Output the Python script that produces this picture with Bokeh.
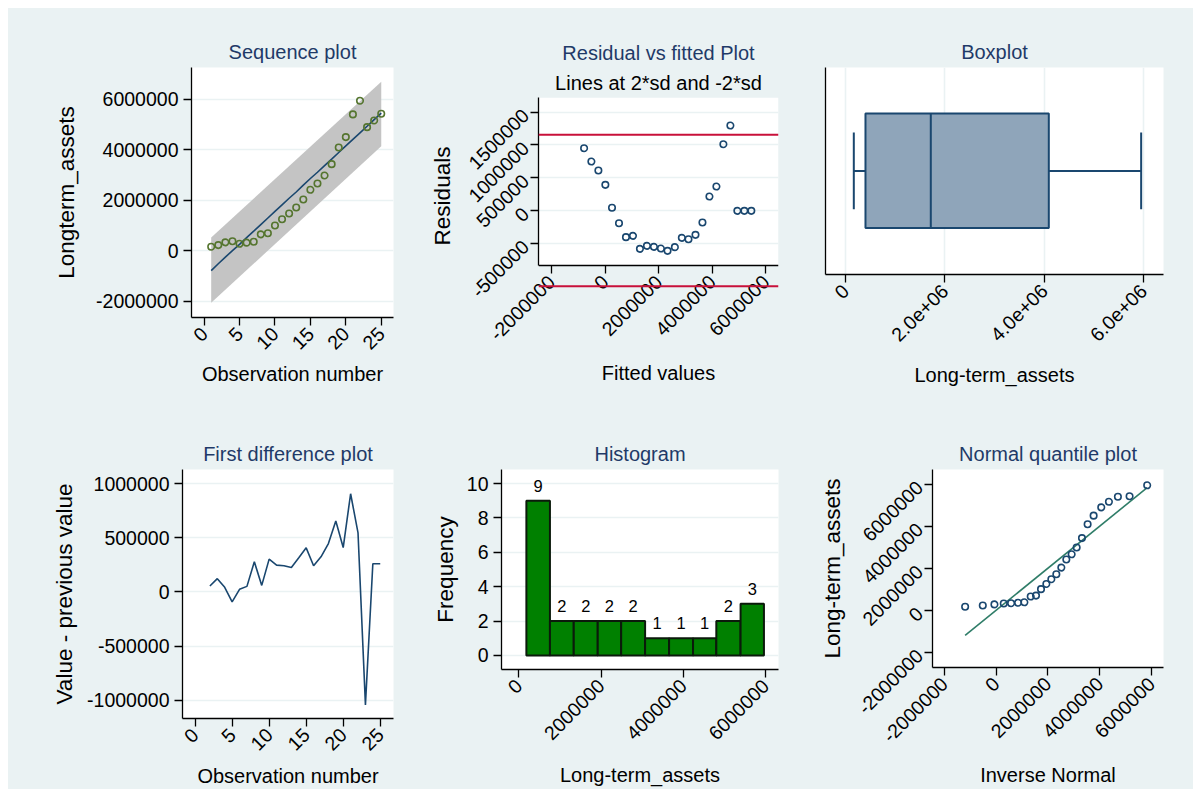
import numpy as np
from math import pi
from bokeh.plotting import figure
from bokeh.models import (Range1d, FixedTicker, NumeralTickFormatter, Span, Title, LinearAxis,
                          BoxAnnotation)
from bokeh.layouts import row, column
from bokeh.core.properties import value
from bokeh.embed import file_html
from bokeh.resources import INLINE

FONT = "Liberation Sans"
BG = "#EAF2F3"
NAVY = "#1A476F"
TITLE_C = "#1F3A68"
RED = "#C8103A"

# ---------------- data ----------------
obs = list(range(1, 26))
longterm_assets = [165000, 228000, 338000, 380000, 280000, 325000, 360000, 655000, 700000,
                   1005000, 1252000, 1480000, 1716000, 2032000, 2418000, 2665000, 2985000,
                   3435000, 4093000, 4505000, 5405000, 5948000, 4900000, 5165000, 5430000]
fitted_values = [-781000, -509000, -248000, 12000, 260000, 521000, 781000, 1042000, 1302000,
                 1563000, 1823000, 2084000, 2332000, 2605000, 2865000, 3113000, 3374000,
                 3634000, 3895000, 4155000, 4415000, 4676000, 4936000, 5197000, 5457000]
residuals = [949000, 746000, 609000, 391000, 41000, -193000, -406000, -386000, -584000,
             -538000, -553000, -579000, -614000, -558000, -416000, -437000, -371000,
             -183000, 213000, 365000, 1010000, 1294000, -5000, -5000, -5000]
band_obs = [1, 25]
band_lower = [-2059000, 4145000]
band_upper = [528000, 6693000]
sd_limits = [1155000, -1155000]

diff_obs = list(range(2, 26))
first_difference = [55000, 123000, 43000, -92000, 25000, 52000, 279000, 61000, 304000,
                    248000, 242000, 227000, 316000, 408000, 242000, 325000, 448000,
                    656000, 411000, 908000, 546000, -1043000, 261000, 261000]

box_lower_whisker = 168000
box_q1 = 403000
box_median = 1718000
box_q3 = 4094000
box_upper_whisker = 5953000

hist_edges = [185000, 758000, 1337000, 1920000, 2490000, 3072000, 3655000, 4238000,
              4804000, 5394000, 5962000]
hist_counts = [9, 2, 2, 2, 2, 1, 1, 1, 2, 3]

qq_theoretical = [-1196000, -514000, -64000, 296000, 579000, 849000, 1093000, 1338000,
                  1543000, 1736000, 1942000, 2135000, 2328000, 2521000, 2714000, 2920000,
                  3113000, 3318000, 3537000, 3769000, 4064000, 4360000, 4707000, 5158000,
                  5839000]
qq_line = [-1196000, 5839000]

obs_ticks = [0, 5, 10, 15, 20, 25]
million_ticks = [-2000000, 0, 2000000, 4000000, 6000000]


# ---------------- helpers ----------------
def make_fig(w, h, bl, br, bt, bb, xr, yr, frame_bg="white"):
    p = figure(width=w, height=h, min_border_left=bl, min_border_right=br,
               min_border_top=bt, min_border_bottom=bb,
               x_range=Range1d(*xr), y_range=Range1d(*yr),
               output_backend="svg", toolbar_location=None, title=None,
               background_fill_color=frame_bg, border_fill_color=BG,
               outline_line_color=None, frame_align=False)
    p.xgrid.visible = False
    p.ygrid.visible = False
    return p


def style_axis(ax, grid, label, label_size, standoff, ticks, orient=None, show_grid=False):
    t = FixedTicker(ticks=ticks, minor_ticks=[])
    ax.ticker = t
    ax.formatter = NumeralTickFormatter(format="0")
    ax.axis_label = label
    ax.axis_label_text_font = FONT
    ax.axis_label_text_font_size = label_size
    ax.axis_label_text_font_style = "normal"
    ax.axis_label_text_color = "black"
    ax.axis_label_standoff = standoff
    ax.major_label_text_font = FONT
    ax.major_label_text_font_size = "19.5px"
    ax.major_label_text_color = "black"
    ax.major_label_standoff = 5
    ax.major_tick_out = 8
    ax.major_tick_in = 0
    ax.minor_tick_out = 0
    ax.minor_tick_in = 0
    ax.major_tick_line_color = "black"
    ax.major_tick_line_width = 1.3
    ax.axis_line_color = "black"
    ax.axis_line_width = 1.3
    if orient is not None:
        ax.major_label_orientation = orient
    if show_grid:
        grid.visible = True
        grid.ticker = t
        grid.grid_line_color = BG
        grid.grid_line_width = 1.6
    return t


def add_title(p, text, color, standoff):
    p.add_layout(Title(text=text, align="center", text_font=FONT, text_font_size="20px",
                       text_font_style="normal", text_color=color, standoff=standoff), "above")


# ---------------- panel 1: sequence plot ----------------
p1 = make_fig(404, 397, 183, 19, 59, 88, (-1.78, 26.73), (-2639000, 7262000))
style_axis(p1.xaxis[0], p1.xgrid[0], "Observation number", "20px", 4, obs_ticks, orient=pi / 4)
style_axis(p1.yaxis[0], p1.ygrid[0], "Longterm_assets", "22.5px", 14, million_ticks,
           show_grid=True)
add_title(p1, "Sequence plot", TITLE_C, 9.5)
p1.varea(x=band_obs, y1=band_lower, y2=band_upper, fill_color="#C4C4C4")
p1.line(obs, fitted_values, line_color=NAVY, line_width=1.6)
p1.scatter(obs, longterm_assets, marker="circle", size=6.5, fill_color=None,
           line_color="#55752F", line_width=1.6)

# ---------------- panel 2: residual vs fitted ----------------
# the frame runs a little below the plot region so that the -2*sd line (which Stata
# draws below the region) can be shown; the white region ends at the x-axis value.
p2_region_bottom = -838000
p2 = make_fig(394, 397, 126, 28, 89, 111, (-2482000, 6471000), (-1279000, 1721000),
              frame_bg=BG)
fitted_ticks = [-2000000, 0, 2000000, 4000000, 6000000]
xt2 = style_axis(p2.xaxis[0], p2.xgrid[0], "Fitted values", "20px", 12, fitted_ticks,
                 orient=pi / 4)
p2.xaxis[0].axis_line_color = None
p2.xaxis[0].major_tick_out = 0
p2.xaxis[0].major_label_standoff = -16
style_axis(p2.yaxis[0], p2.ygrid[0], "Residuals", "22.5px", 4,
           [-500000, 0, 500000, 1000000, 1500000], orient=pi / 4, show_grid=True)
p2.yaxis[0].bounds = (p2_region_bottom, 1721000)
p2.add_layout(BoxAnnotation(bottom=p2_region_bottom, fill_color="white", fill_alpha=1.0,
                            line_color=None, level="image"))
x_rule = LinearAxis(fixed_location=p2_region_bottom, ticker=xt2, axis_line_color="black",
                    axis_line_width=1.3, major_tick_out=8, major_tick_in=0,
                    major_tick_line_color="black", major_tick_line_width=1.3,
                    minor_tick_out=0, minor_tick_in=0,
                    major_label_overrides={t: "" for t in fitted_ticks})
p2.add_layout(x_rule, "below")
add_title(p2, "Lines at 2*sd and -2*sd", "black", 7)
add_title(p2, "Residual vs fitted Plot", TITLE_C, 6)
for lim in sd_limits:
    p2.add_layout(Span(location=lim, dimension="width", line_color=RED, line_width=2))
p2.scatter(fitted_values, residuals, marker="circle", size=6.5, fill_color=None,
           line_color=NAVY, line_width=1.6)

# ---------------- panel 3: boxplot ----------------
p3 = make_fig(387, 397, 19, 30, 59, 131, (-402000, 6403000), (0, 1))
style_axis(p3.xaxis[0], p3.xgrid[0], "Long-term_assets", "20px", 13,
           [0, 2000000, 4000000, 6000000], orient=pi / 4, show_grid=True)
p3.xaxis[0].major_label_overrides = {0: "0", 2000000: "2.0e+06", 4000000: "4.0e+06",
                                     6000000: "6.0e+06"}
ya = p3.yaxis[0]
ya.ticker = FixedTicker(ticks=[])
ya.major_tick_out = 0
ya.minor_tick_out = 0
ya.axis_line_color = "black"
ya.axis_line_width = 1.3
add_title(p3, "Boxplot", TITLE_C, 10)
p3.segment(x0=[box_lower_whisker, box_q3], x1=[box_q1, box_upper_whisker],
           y0=[0.5, 0.5], y1=[0.5, 0.5], line_color=NAVY, line_width=2)
p3.segment(x0=[box_lower_whisker, box_upper_whisker], x1=[box_lower_whisker, box_upper_whisker],
           y0=[0.315, 0.315], y1=[0.686, 0.686], line_color=NAVY, line_width=2)
p3.quad(left=[box_q1], right=[box_q3], bottom=[0.225], top=[0.778],
        fill_color="#8FA5BA", line_color=NAVY, line_width=2)
p3.segment(x0=[box_median], x1=[box_median], y0=[0.225], y1=[0.778],
           line_color=NAVY, line_width=2)

# ---------------- panel 4: first difference ----------------
p4 = make_fig(404, 384, 174, 19, 64, 70, (-1.70, 26.79), (-1169000, 1132000))
style_axis(p4.xaxis[0], p4.xgrid[0], "Observation number", "20px", 5, obs_ticks, orient=pi / 4)
style_axis(p4.yaxis[0], p4.ygrid[0], "Value - previous value", "22.5px", 7,
           [-1000000, -500000, 0, 500000, 1000000], show_grid=True)
add_title(p4, "First difference plot", TITLE_C, 9)
p4.line(diff_obs, first_difference, line_color=NAVY, line_width=1.6)

# ---------------- panel 5: histogram ----------------
p5 = make_fig(394, 384, 89, 28, 64, 117, (-420000, 6316000), (-0.82, 10.82))
style_axis(p5.xaxis[0], p5.xgrid[0], "Long-term_assets", "20px", 15,
           [0, 2000000, 4000000, 6000000], orient=pi / 4)
style_axis(p5.yaxis[0], p5.ygrid[0], "Frequency", "22.5px", 6,
           [0, 2, 4, 6, 8, 10], show_grid=True)
add_title(p5, "Histogram", TITLE_C, 9)
lefts = hist_edges[:-1]
rights = hist_edges[1:]
p5.quad(left=lefts, right=rights, bottom=0, top=hist_counts, fill_color="#008000",
        line_color="#0B1A0B", line_width=2)
centers = [(a + b) / 2 for a, b in zip(lefts, rights)]
p5.text(x=centers, y=hist_counts, text=[str(c) for c in hist_counts],
        text_font=value(FONT), text_font_size=value("16.5px"), text_color="black",
        text_align="center", text_baseline="alphabetic", y_offset=-15)

# ---------------- panel 6: normal quantile ----------------
p6 = make_fig(387, 384, 126, 30, 64, 122, (-2457000, 6469000), (-2723000, 6701000))
style_axis(p6.xaxis[0], p6.xgrid[0], "Inverse Normal", "20px", 12, million_ticks,
           orient=pi / 4)
style_axis(p6.yaxis[0], p6.ygrid[0], "Long-term_assets", "22.5px", 3, million_ticks,
           orient=pi / 4)
add_title(p6, "Normal quantile plot", TITLE_C, 9)
p6.line(qq_line, qq_line, line_color="#2F7D68", line_width=1.6)
p6.scatter(qq_theoretical, sorted(longterm_assets), marker="circle", size=6.5,
           fill_color=None, line_color=NAVY, line_width=1.6)

bgstyle = {"background-color": BG}
layout = column(row(p1, p2, p3, spacing=0, styles=bgstyle),
                row(p4, p5, p6, spacing=0, styles=bgstyle),
                spacing=0, styles=bgstyle, margin=(8, 0, 0, 8))

open("out.html", "w").write(file_html(layout, INLINE))
